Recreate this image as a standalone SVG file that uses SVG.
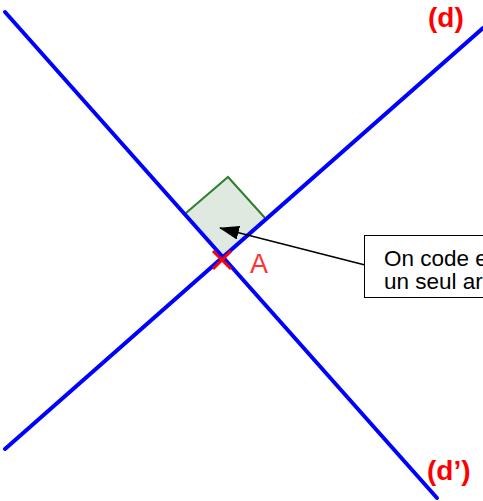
<svg xmlns="http://www.w3.org/2000/svg" width="483" height="501" viewBox="0 0 483 501">
  <defs>
    <style>
      .line { stroke: #0000ff; stroke-width: 4; stroke-linecap: round; fill: none; }
      .lbl { font-family: "Liberation Sans", Arial, sans-serif; font-weight: bold; fill: #ff0000; font-size: 28px; }
      .note { font-family: "Liberation Sans", Arial, sans-serif; font-size: 22.5px; fill: #000000; }
    </style>
    <marker id="arrow" markerWidth="20" markerHeight="14" refX="19" refY="7" orient="auto" markerUnits="userSpaceOnUse">
      <path d="M0,0 L20,7 L0,14 Z" fill="#000000"/>
    </marker>
  </defs>
  <rect width="483" height="501" fill="#ffffff"/>
  <g id="right-angle">
    <path d="M223,256 L186,213 L228,177 L265,218 Z" fill="#dfe9df" stroke="none"/>
    <path d="M186,213 L228,177 L265,218" fill="none" stroke="#2f7f2f" stroke-width="2"/>
  </g>
  <g id="connectors">
    <line class="line" x1="5" y1="12" x2="437" y2="498"/>
    <line class="line" x1="5" y1="449" x2="483" y2="28"/>
    <line x1="365" y1="265" x2="220" y2="228" stroke="#000000" stroke-width="1.5" marker-end="url(#arrow)"/>
  </g>
  <g id="point-A">
    <path d="M213,251 L231,269 M231,251 L213,269" stroke="#ff0000" stroke-width="3" fill="none"/>
    <text x="250" y="273" font-family="Liberation Sans, Arial, sans-serif" font-size="27" fill="#ff3333">A</text>
  </g>
  <g id="label-d">
    <text class="lbl" x="428" y="27">(d)</text>
  </g>
  <g id="label-d-prime">
    <text class="lbl" x="427" y="480">(d’)</text>
  </g>
  <g id="note">
    <rect x="364.5" y="235.5" width="140" height="62" fill="#ffffff" stroke="#000000" stroke-width="1"/>
    <text class="note" x="384" y="266">On code e</text>
    <text class="note" x="384" y="289">un seul ar</text>
  </g>
</svg>
